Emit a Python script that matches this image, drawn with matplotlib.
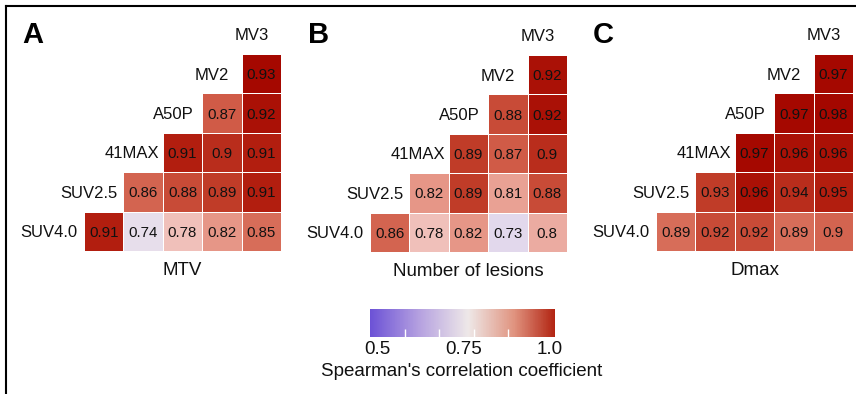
import numpy as np
import matplotlib
matplotlib.use('Agg')
import matplotlib.pyplot as plt
from matplotlib.colors import LinearSegmentedColormap, Normalize
from matplotlib.cm import ScalarMappable
from matplotlib.lines import Line2D
from matplotlib.ticker import FixedLocator
from matplotlib.transforms import ScaledTranslation

plt.rcParams['font.family'] = ['Liberation Sans', 'DejaVu Sans']

# data
variables = ['SUV4.0', 'SUV2.5', '41MAX', 'A50P', 'MV2', 'MV3']
panel_letters = ['A', 'B', 'C']
panel_titles = ['MTV', 'Number of lesions', 'Dmax']

# each row: correlations of a variable with the variables after it
mtv = [[0.91, 0.74, 0.78, 0.82, 0.85],
       [0.86, 0.88, 0.89, 0.91],
       [0.91, 0.9, 0.91],
       [0.87, 0.92],
       [0.93]]
lesions = [[0.86, 0.78, 0.82, 0.73, 0.8],
           [0.82, 0.89, 0.81, 0.88],
           [0.89, 0.87, 0.9],
           [0.88, 0.92],
           [0.92]]
dmax = [[0.89, 0.92, 0.92, 0.89, 0.9],
        [0.93, 0.96, 0.94, 0.95],
        [0.97, 0.96, 0.96],
        [0.97, 0.98],
        [0.97]]

cbar_ticks = [0.5, 0.75, 1.0]
cbar_labels = ['0.5', '0.75', '1.0']
cbar_minor = [0.6, 0.7, 0.8, 0.9, 1.0]

# colours
cell_stops = [(0.5, '#6A50D8'), (0.73, '#E2D8EC'), (0.755, '#F0E8E8'),
              (0.78, '#F0C0BA'), (0.82, '#E69687'), (0.85, '#D76E5A'),
              (0.87, '#D05C48'), (0.89, '#C03C28'), (0.91, '#B21E0F'),
              (0.93, '#A50800'), (1.0, '#9E0000')]
cell_cmap = LinearSegmentedColormap.from_list(
    'cells', [((v - 0.5) / 0.5, c) for v, c in cell_stops])
bar_cmap = LinearSegmentedColormap.from_list(
    'bar', [(0, '#6C52D6'), (0.27, '#B6A2E0'), (0.53, '#EEE8E8'),
            (0.78, '#E0937F'), (1, '#B22412')])

W, H = 856, 394
U = 39.4  # cell size in pixels
fig = plt.figure(figsize=(W / 100, H / 100), dpi=100)

# pixel position of each grid (left edge, bottom edge) and colour shift
grid_x = [84, 370, 656]
grid_y = [251, 252, 251]
shifts = [0.0, 0.0, 0.04]
letter_x = [22, 308, 593]
label_off = [0.34, 0.35, 0.40, 0.28, 0.19, 0.2]

n = len(variables)
for p, vals in enumerate([mtv, lesions, dmax]):
    x0, y0 = grid_x[p], grid_y[p]
    ax = fig.add_axes([0, 0, 1, 1])
    ax.set_xlim(0.5 - x0 / U, 0.5 + (W - x0) / U)
    ax.set_ylim(-0.5 - (H - y0) / U, -0.5 + y0 / U)
    ax.axis('off')

    M = np.full((n, n), np.nan)
    for r, row in enumerate(vals):
        for k, v in enumerate(row):
            M[r, r + 1 + k] = v
    edges = np.arange(n + 1) - 0.5
    norm = Normalize(0.5 + shifts[p], 1.0 + shifts[p])
    ax.pcolormesh(edges, edges, np.ma.masked_invalid(M), cmap=cell_cmap,
                  norm=norm, edgecolors='white', linewidth=0.4)

    for r, row in enumerate(vals):
        for k, v in enumerate(row):
            ax.text(r + 1 + k, r, f'{v:g}', ha='center', va='center_baseline',
                    fontsize=10.8, color='#111111')

    for i, name in enumerate(variables):
        ax.text(i + label_off[i], i, name, ha='right', va='center_baseline',
                fontsize=12, color='#111111')

    ax.text((n - 1) / 2 + 0.5, -1.12, panel_titles[p], ha='center',
            va='baseline', fontsize=13.5, color='#111111')

    fig.text(letter_x[p] / W, (H - 43) / H, panel_letters[p], fontsize=21,
             fontweight='bold', va='baseline')

# colour bar
cax = fig.add_axes([370 / W, (H - 337) / H, 185 / W, 28 / H])
cb = fig.colorbar(ScalarMappable(Normalize(0.5, 1.035), bar_cmap), cax=cax,
                  orientation='horizontal')
cb.outline.set_visible(False)
cb.minorlocator = FixedLocator(cbar_minor)
cb.update_ticks()
cax.set_xticks(cbar_ticks, labels=cbar_labels)
cax.tick_params(which='major', length=0, labelsize=13.5, pad=3,
                labelcolor='#111111')
cax.tick_params(which='minor', direction='in', length=5.5, width=1,
                color='white')
for lbl in cax.get_xticklabels():
    lbl.set_transform(lbl.get_transform() +
                      ScaledTranslation(7 / 100, 0, fig.dpi_scale_trans))
fig.text(462 / W, (H - 376) / H, "Spearman's correlation coefficient",
         ha='center', va='baseline', fontsize=13.5, color='#111111')

# frame (top and left only)
fig.add_artist(Line2D([6 / W, 6 / W], [0, (H - 6) / H], color='black',
                      lw=1.5, transform=fig.transFigure))
fig.add_artist(Line2D([6 / W, 1], [(H - 6) / H, (H - 6) / H], color='black',
                      lw=1.5, transform=fig.transFigure))

fig.savefig('out.png', dpi=100)
